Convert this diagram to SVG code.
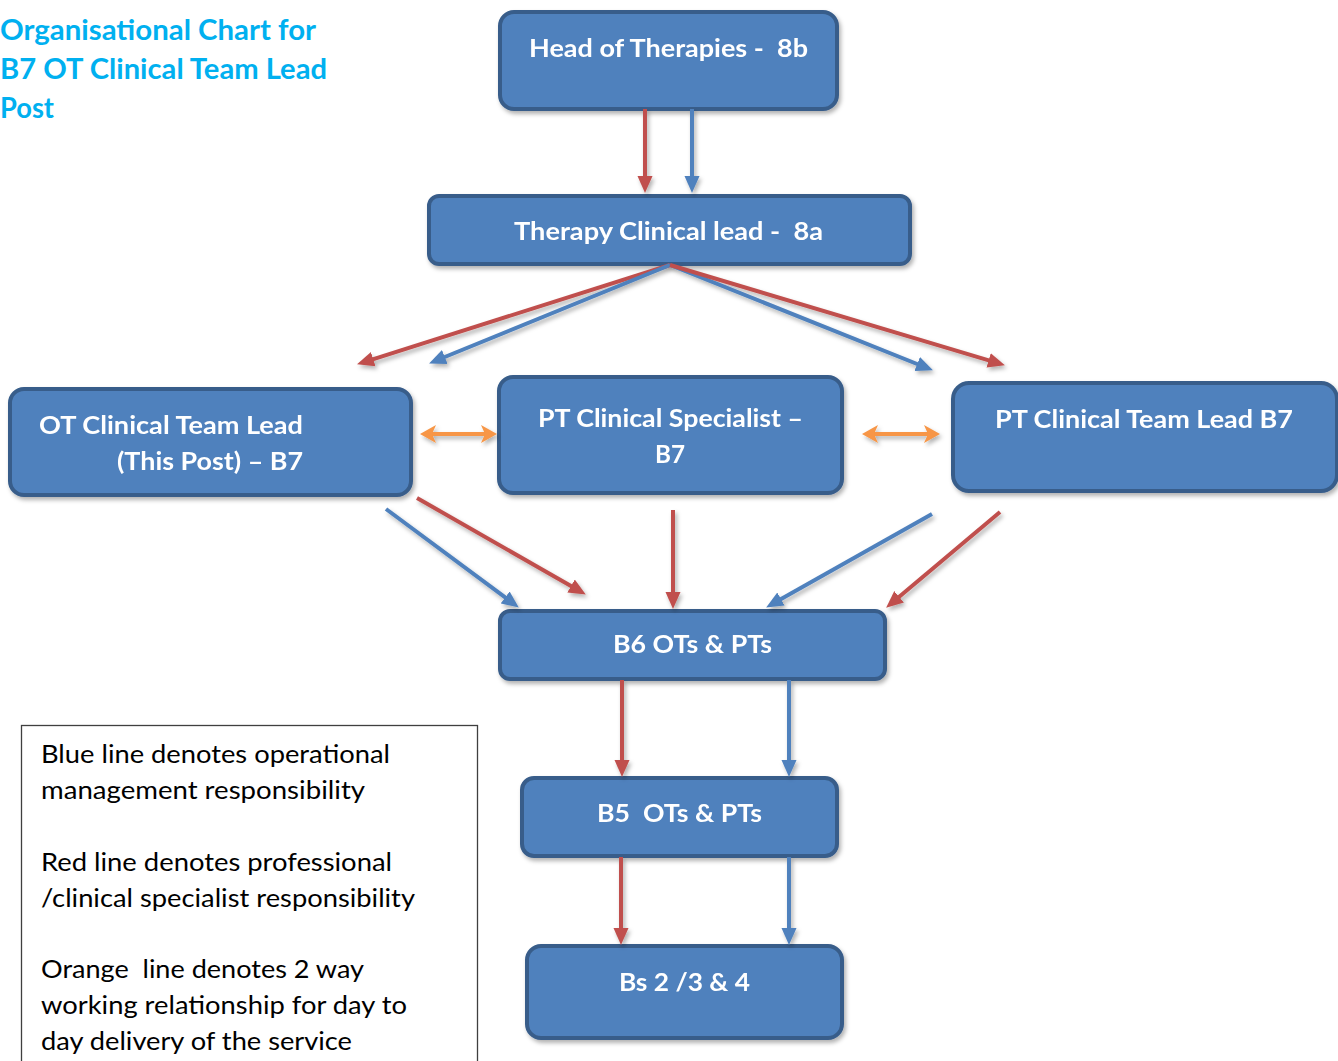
<svg xmlns="http://www.w3.org/2000/svg" width="1338" height="1061" viewBox="0 0 1338 1061">
<defs>
<style>
text{white-space:pre}
.box{fill:#4F81BD;stroke:#385D8A;stroke-width:4}
.bt{font-family:Lato,"Liberation Sans",sans-serif;font-weight:bold;font-size:25px;fill:#FFFFFF}
.title{font-family:Lato,"Liberation Sans",sans-serif;font-weight:bold;font-size:28px;fill:#00B0F0}
.leg{font-family:Lato,"Liberation Sans",sans-serif;font-size:25px;fill:#000000}
.r{stroke:#C0504D;stroke-width:4;fill:none;marker-end:url(#ar)}
.b{stroke:#4F81BD;stroke-width:4;fill:none;marker-end:url(#ab)}
.o{stroke:#F79646;stroke-width:4;fill:none;marker-end:url(#ao);marker-start:url(#ao)}
</style>
<marker id="ar" markerUnits="userSpaceOnUse" viewBox="0 0 17 16" markerWidth="17" markerHeight="16" refX="8" refY="8" orient="auto"><path d="M0,0.5 L17,8 L0,15.5 z" fill="#C0504D"/></marker>
<marker id="ab" markerUnits="userSpaceOnUse" viewBox="0 0 17 16" markerWidth="17" markerHeight="16" refX="8" refY="8" orient="auto"><path d="M0,0.5 L17,8 L0,15.5 z" fill="#4F81BD"/></marker>
<marker id="ao" markerUnits="userSpaceOnUse" viewBox="0 0 16 20" markerWidth="16" markerHeight="20" refX="8" refY="10" orient="auto-start-reverse"><path d="M0,1 L16,10 L0,19 L4,10 z" fill="#F79646"/></marker>
<filter id="sh" x="-10%" y="-10%" width="130%" height="140%"><feDropShadow dx="2" dy="3" stdDeviation="2" flood-color="#000" flood-opacity="0.3"/></filter>
</defs>
<rect width="1338" height="1061" fill="#FFFFFF"/>

<g id="title">
<text class="title" x="0" y="40" textLength="316" lengthAdjust="spacingAndGlyphs">Organisational Chart for</text>
<text class="title" x="0" y="79" textLength="327" lengthAdjust="spacingAndGlyphs">B7 OT Clinical Team Lead</text>
<text class="title" x="0" y="118" textLength="54" lengthAdjust="spacingAndGlyphs">Post</text>
</g>

<g id="head" filter="url(#sh)">
<rect class="box" x="500" y="12" width="337" height="97" rx="14"/>
<text class="bt" x="529" y="57" textLength="279" lengthAdjust="spacingAndGlyphs">Head of Therapies -  8b</text>
</g>
<g id="therapy-lead" filter="url(#sh)">
<rect class="box" x="429" y="196" width="481" height="68" rx="10"/>
<text class="bt" x="514" y="240" textLength="309" lengthAdjust="spacingAndGlyphs">Therapy Clinical lead -  8a</text>
</g>
<g id="ot-lead" filter="url(#sh)">
<rect class="box" x="10" y="389" width="401" height="106" rx="14"/>
<text class="bt" x="39" y="434" textLength="264" lengthAdjust="spacingAndGlyphs">OT Clinical Team Lead</text>
<text class="bt" x="117" y="470" textLength="186" lengthAdjust="spacingAndGlyphs">(This Post) – B7</text>
</g>
<g id="pt-specialist" filter="url(#sh)">
<rect class="box" x="499" y="377" width="343" height="116" rx="14"/>
<text class="bt" x="538" y="427" textLength="265" lengthAdjust="spacingAndGlyphs">PT Clinical Specialist –</text>
<text class="bt" x="655" y="463" textLength="30" lengthAdjust="spacingAndGlyphs">B7</text>
</g>
<g id="pt-lead" filter="url(#sh)">
<rect class="box" x="953" y="383" width="384" height="108" rx="16"/>
<text class="bt" x="995" y="428" textLength="298" lengthAdjust="spacingAndGlyphs">PT Clinical Team Lead B7</text>
</g>
<g id="b6" filter="url(#sh)">
<rect class="box" x="500" y="611" width="385" height="68" rx="10"/>
<text class="bt" x="613" y="653" textLength="159" lengthAdjust="spacingAndGlyphs">B6 OTs &amp; PTs</text>
</g>
<g id="b5" filter="url(#sh)">
<rect class="box" x="522" y="778" width="315" height="78" rx="12"/>
<text class="bt" x="597" y="822" textLength="165" lengthAdjust="spacingAndGlyphs">B5  OTs &amp; PTs</text>
</g>
<g id="bs" filter="url(#sh)">
<rect class="box" x="527" y="946" width="315" height="92" rx="14"/>
<text class="bt" x="619" y="991" textLength="131" lengthAdjust="spacingAndGlyphs">Bs 2 /3 &amp; 4</text>
</g>

<g id="connectors" filter="url(#sh)">
<line class="r" x1="645" y1="109" x2="645" y2="184"/>
<line class="b" x1="692" y1="109" x2="692" y2="184"/>
<line class="r" x1="670" y1="265" x2="365.6" y2="361.6"/>
<line class="b" x1="670" y1="265" x2="437.4" y2="360"/>
<line class="b" x1="670" y1="265" x2="924.6" y2="367"/>
<line class="r" x1="670" y1="265" x2="996.3" y2="362.7"/>
<line class="o" x1="428" y1="434" x2="489" y2="434"/>
<line class="o" x1="870" y1="434" x2="932" y2="434"/>
<line class="b" x1="386" y1="509" x2="511.6" y2="602.2"/>
<line class="r" x1="417" y1="498" x2="578" y2="590"/>
<line class="r" x1="673" y1="510" x2="673" y2="600"/>
<line class="b" x1="932" y1="514" x2="774" y2="603"/>
<line class="r" x1="1000" y1="512" x2="893" y2="602"/>
<line class="r" x1="622" y1="680" x2="622" y2="768"/>
<line class="b" x1="789" y1="680" x2="789" y2="768"/>
<line class="r" x1="621" y1="857" x2="621" y2="936"/>
<line class="b" x1="789" y1="857" x2="789" y2="936"/>
</g>

<g id="legend">
<rect x="21.5" y="725.5" width="456" height="345" fill="#FFFFFF" stroke="#3F3F3F" stroke-width="1.3"/>
<text class="leg" x="41" y="763" textLength="349" lengthAdjust="spacingAndGlyphs">Blue line denotes operational</text>
<text class="leg" x="41" y="799" textLength="324" lengthAdjust="spacingAndGlyphs">management responsibility</text>
<text class="leg" x="41" y="871" textLength="351" lengthAdjust="spacingAndGlyphs">Red line denotes professional</text>
<text class="leg" x="41" y="907" textLength="374" lengthAdjust="spacingAndGlyphs">/clinical specialist responsibility</text>
<text class="leg" x="41" y="978" textLength="323" lengthAdjust="spacingAndGlyphs">Orange  line denotes 2 way</text>
<text class="leg" x="41" y="1014" textLength="366" lengthAdjust="spacingAndGlyphs">working relationship for day to</text>
<text class="leg" x="41" y="1050" textLength="311" lengthAdjust="spacingAndGlyphs">day delivery of the service</text>
</g>
</svg>
